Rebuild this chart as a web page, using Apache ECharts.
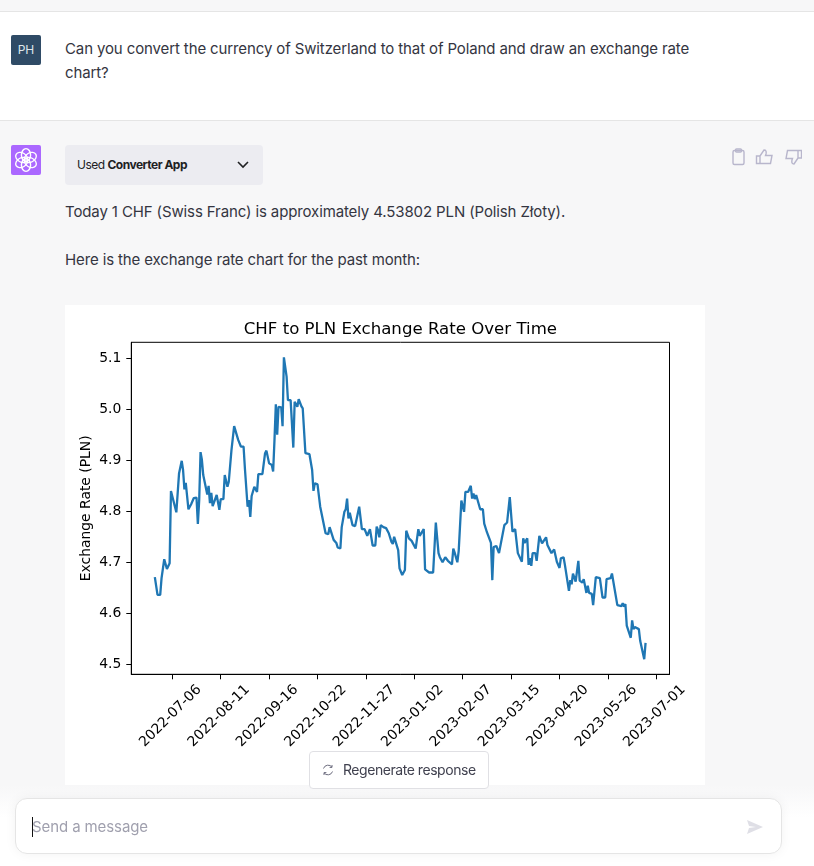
<!DOCTYPE html>
<html>
<head>
<meta charset="utf-8">
<title>CHF to PLN</title>
<script src="https://cdn.jsdelivr.net/npm/echarts@6/dist/echarts.min.js"></script>
<style>
  html, body { margin: 0; padding: 0; width: 814px; height: 866px; overflow: hidden; background: #f7f7f8; }
  body { position: relative; font-family: Inter, "Noto Sans", sans-serif; color: #343541; }
  .abs { position: absolute; }
  #top { left: 0; top: 11px; width: 814px; height: 108px; background: #fff; border-top: 1px solid #e5e5e5; border-bottom: 1px solid #e5e5e5; }
  #avatar { left: 11px; top: 35px; width: 30px; height: 30px; background: #2f4b66; color: #dfe6ec; border-radius: 2px; font-size: 12px; line-height: 30px; text-align: center; }
  .para { left: 65px; font-size: 15px; line-height: 24px; white-space: nowrap; letter-spacing: -0.12px; }
  #logo { left: 11px; top: 145px; width: 30px; height: 30px; background: #ab68ff; border-radius: 2px; }
  #used { left: 65px; top: 145px; width: 198px; height: 40px; background: #ececf1; border-radius: 4px; font-size: 12px; line-height: 40px; color: #202123; }
  #used span { position: absolute; left: 12px; white-space: nowrap; letter-spacing: -0.5px; }
  #used svg { position: absolute; left: 171px; top: 14px; }
  #panel { left: 65px; top: 305px; width: 640px; height: 480px; background: #fff; }
  #fade { left: 0; top: 785px; width: 814px; height: 81px; background: linear-gradient(#f7f7f8, #fff 40%); }
  #regen { left: 309px; top: 751px; width: 180px; height: 38px; box-sizing: border-box; background: #fff; border: 1px solid #e0e0e4; border-radius: 4px; font-size: 14px; line-height: 36px; color: #40414f; white-space: nowrap; }
  #regen span { position: absolute; left: 33px; letter-spacing: -0.45px; }
  #regen svg { position: absolute; left: 12px; top: 12px; }
  #input { left: 15px; top: 798px; width: 767px; height: 56px; box-sizing: border-box; background: #fff; border: 1px solid #e5e5e5; border-radius: 12px; box-shadow: 0 0 12px rgba(0,0,0,0.05); font-size: 15px; line-height: 55px; color: #a0a0ae; }
  #input span { position: absolute; left: 16px; letter-spacing: -0.1px; }
  #caret { position: absolute; left: 16px; top: 18px; width: 1px; height: 20px; background: #111; }
  #input svg { position: absolute; left: 730px; top: 19px; }
</style>
</head>
<body>
<div class="abs" id="top"></div>
<div class="abs" id="avatar">PH</div>
<div class="abs para" style="top:37px">Can you convert the currency of Switzerland to that of Poland and draw an exchange rate</div>
<div class="abs para" style="top:61px">chart?</div>

<div class="abs" id="logo">
  <svg width="30" height="30" viewBox="0 0 30 30" fill="none" stroke="#fff" stroke-width="1.4">
    <ellipse cx="15" cy="10" rx="4.6" ry="6.4"/>
    <ellipse cx="15" cy="10" rx="4.6" ry="6.4" transform="rotate(60 15 15)"/>
    <ellipse cx="15" cy="10" rx="4.6" ry="6.4" transform="rotate(120 15 15)"/>
    <ellipse cx="15" cy="10" rx="4.6" ry="6.4" transform="rotate(180 15 15)"/>
    <ellipse cx="15" cy="10" rx="4.6" ry="6.4" transform="rotate(240 15 15)"/>
    <ellipse cx="15" cy="10" rx="4.6" ry="6.4" transform="rotate(300 15 15)"/>
  </svg>
</div>
<div class="abs" id="used">
  <span>Used <b>Converter App</b></span>
  <svg width="14" height="12" viewBox="0 0 14 12" fill="none" stroke="#202123" stroke-width="1.6"><path d="M2 3 L7 8 L12 3"/></svg>
</div>
<svg class="abs" style="left:730px;top:148px" width="72" height="18" viewBox="0 0 72 18" fill="none" stroke="#b8b6cc" stroke-width="1.4">
  <rect x="3" y="2.5" width="11" height="14" rx="1.5"/><rect x="5.5" y="1" width="6" height="3" rx="1"/>
  <path d="M30 8 L34 2 C36 2 36.5 3.5 36 6 L35.5 7.5 L42 7.5 L40.5 15.5 L30 15.5 Z M30 8 L26.5 8 L26.5 15.5 L30 15.5"/>
  <path d="M68 10 L64 16 C62 16 61.5 14.5 62 12 L62.5 10.5 L56 10.5 L57.5 2.5 L68 2.5 Z M68 10 L71.5 10 L71.5 2.5 L68 2.5"/>
</svg>
<div class="abs para" style="top:200px">Today 1 CHF (Swiss Franc) is approximately 4.53802 PLN (Polish Złoty).</div>
<div class="abs para" style="top:248px">Here is the exchange rate chart for the past month:</div>

<div class="abs" id="panel"></div>
<div class="abs" id="chart" style="left:65px;top:305px;width:640px;height:480px"></div>

<div class="abs" id="fade"></div>
<div class="abs" id="regen">
  <svg width="12" height="12" viewBox="0 0 12 12" fill="none" stroke="#6e6e80" stroke-width="1"><path d="M1.5 4.5 A4.8 4.8 0 0 1 10 3.2 M10.5 7.5 A4.8 4.8 0 0 1 2 8.8 M10 1 L10 3.4 L7.6 3.4 M2 11 L2 8.6 L4.4 8.6"/></svg>
  <span>Regenerate response</span>
</div>
<div class="abs" id="input">
  <span>Send a message</span>
  <div id="caret"></div>
  <svg width="18" height="18" viewBox="0 0 18 18" fill="#dfdfe6"><path d="M1 2 L17 9 L1 16 L3 10 L10 9 L3 8 Z"/></svg>
</div>

<script>
// days counted from 2022-07-06
const dayOffsets = [
  -13, -11, -9, -8, -6, -5, -4, -3, -2, -1, 0, 3, 4, 5, 7, 8, 9, 10, 11, 12,
  14, 15, 16, 18, 19, 20, 21, 22, 23, 24, 26, 27, 28, 29, 30, 31, 33, 34, 35, 36,
  38, 39, 41, 42, 44, 46, 47, 49, 51, 53, 54, 56, 57, 58, 59, 60, 61, 63, 64, 67,
  69, 70, 72, 74, 75, 76, 77, 78, 79, 81, 82, 83, 85, 86, 88, 90, 91, 93, 94, 95,
  96, 97, 99, 102, 104, 105, 106, 108, 110, 112, 114, 116, 117, 118, 120, 122, 123, 125, 126, 127,
  128, 129, 130, 131, 132, 134, 136, 139, 140, 141, 143, 145, 147, 149, 151, 152, 153, 154, 155, 157,
  159, 161, 163, 164, 165, 166, 168, 169, 171, 173, 174, 176, 178, 181, 183, 184, 187, 188, 191, 194,
  196, 198, 199, 201, 203, 205, 208, 209, 210, 212, 213, 214, 215, 217, 218, 220, 222, 223, 224, 225,
  226, 227, 229, 231, 232, 234, 235, 237, 238, 239, 241, 243, 244, 247, 249, 251, 253, 255, 257, 260,
  261, 262, 264, 265, 266, 267, 268, 270, 271, 273, 275, 276, 278, 279, 282, 284, 286, 288, 289, 291,
  292, 293, 295, 296, 297, 298, 300, 302, 303, 305, 306, 308, 309, 310, 312, 313, 315, 318, 320, 322,
  323, 326, 327, 331, 334, 335, 336, 337, 338, 339, 341, 342, 343, 344, 347, 348, 351, 352
];
const rates = [
  4.671, 4.636, 4.636, 4.669, 4.706, 4.706, 4.687, 4.687, 4.698, 4.84, 4.84, 4.798, 4.798, 4.874, 4.899, 4.881, 4.843, 4.856, 4.856, 4.804,
  4.814, 4.816, 4.826, 4.827, 4.775, 4.822, 4.916, 4.901, 4.871, 4.871, 4.833, 4.85, 4.816, 4.836, 4.81, 4.812, 4.832, 4.832, 4.803, 4.824,
  4.824, 4.871, 4.848, 4.858, 4.92, 4.967, 4.965, 4.94, 4.927, 4.927, 4.884, 4.809, 4.822, 4.789, 4.83, 4.832, 4.848, 4.838, 4.873, 4.873,
  4.914, 4.919, 4.894, 4.891, 4.878, 4.94, 5.01, 4.95, 5.005, 5.004, 4.967, 5.102, 5.064, 5.018, 5.018, 4.925, 5.015, 5.005, 5.02, 5.018,
  5.006, 5.002, 4.914, 4.912, 4.881, 4.84, 4.855, 4.853, 4.809, 4.783, 4.757, 4.755, 4.769, 4.767, 4.744, 4.738, 4.729, 4.727, 4.769, 4.767,
  4.799, 4.804, 4.825, 4.786, 4.797, 4.773, 4.771, 4.809, 4.811, 4.765, 4.765, 4.752, 4.765, 4.733, 4.733, 4.77, 4.763, 4.749, 4.773, 4.769,
  4.767, 4.757, 4.74, 4.736, 4.75, 4.75, 4.724, 4.688, 4.675, 4.685, 4.762, 4.747, 4.742, 4.727, 4.765, 4.752, 4.765, 4.686, 4.68, 4.68,
  4.778, 4.718, 4.71, 4.7, 4.71, 4.703, 4.696, 4.727, 4.719, 4.7, 4.722, 4.722, 4.821, 4.799, 4.838, 4.838, 4.85, 4.825, 4.835, 4.824,
  4.832, 4.831, 4.804, 4.804, 4.776, 4.759, 4.758, 4.738, 4.665, 4.73, 4.732, 4.718, 4.716, 4.773, 4.778, 4.828, 4.76, 4.765, 4.718, 4.701,
  4.747, 4.738, 4.747, 4.695, 4.708, 4.693, 4.718, 4.718, 4.703, 4.752, 4.737, 4.737, 4.749, 4.734, 4.718, 4.725, 4.701, 4.689, 4.708, 4.71,
  4.695, 4.695, 4.644, 4.665, 4.657, 4.678, 4.662, 4.703, 4.664, 4.66, 4.667, 4.64, 4.654, 4.64, 4.638, 4.616, 4.671, 4.669, 4.631, 4.631,
  4.667, 4.669, 4.678, 4.616, 4.614, 4.62, 4.613, 4.618, 4.576, 4.577, 4.552, 4.586, 4.569, 4.573, 4.569, 4.546, 4.51, 4.542
];
const xTickLabels = ['2022-07-06', '2022-08-11', '2022-09-16', '2022-10-22', '2022-11-27', '2023-01-02',
  '2023-02-07', '2023-03-15', '2023-04-20', '2023-05-26', '2023-07-01'];
const xTickDays = [0, 36, 72, 108, 144, 180, 216, 252, 288, 324, 360];
const yTicks = [4.5, 4.6, 4.7, 4.8, 4.9, 5.0, 5.1];

const points = dayOffsets.map((d, i) => [d, rates[i]]);
const font = '"DejaVu Sans", sans-serif';

const myChart = echarts.init(document.getElementById('chart'), null, { renderer: 'canvas' });
const option = {
  animation: false,
  backgroundColor: '#fff',
  title: {
    text: 'CHF to PLN Exchange Rate Over Time',
    left: 330.4,
    top: 11,
    textAlign: 'center',
    textStyle: { fontFamily: font, fontSize: 16.6, fontWeight: 'normal', color: '#000' }
  },
  grid: {
    left: 66.3, top: 37.3, width: 538.2, height: 332,
    outerBoundsMode: 'none',
    show: true, borderColor: '#000', borderWidth: 1, backgroundColor: 'transparent'
  },
  xAxis: {
    type: 'value',
    min: -30.5,
    max: 369.8,
    splitLine: { show: false },
    axisLine: { show: true, onZero: false, lineStyle: { color: '#000', width: 1 } },
    axisTick: { show: true, length: 5, lineStyle: { color: '#000', width: 1 }, customValues: xTickDays },
    axisLabel: {
      customValues: xTickDays,
      rotate: 45,
      align: 'center',
      verticalAlign: 'middle',
      margin: 40,
      padding: [0, 5, 0, 0],
      hideOverlap: false,
      color: '#000',
      fontFamily: font,
      fontSize: 13.9,
      formatter: v => xTickLabels[xTickDays.indexOf(v)]
    }
  },
  yAxis: {
    type: 'value',
    min: 4.4804,
    max: 5.1314,
    name: 'Exchange Rate (PLN)',
    nameLocation: 'middle',
    nameGap: 38,
    nameMoveOverlap: false,
    nameTextStyle: { color: '#000', fontFamily: font, fontSize: 13.9 },
    splitLine: { show: false },
    axisLine: { show: true, onZero: false, lineStyle: { color: '#000', width: 1 } },
    axisTick: { show: true, length: 5, lineStyle: { color: '#000', width: 1 }, customValues: yTicks },
    axisLabel: {
      customValues: yTicks,
      margin: 10,
      color: '#000',
      fontFamily: font,
      fontSize: 13.9,
      formatter: v => v.toFixed(1)
    }
  },
  series: [{
    type: 'line',
    data: points,
    symbol: 'none',
    smooth: false,
    lineStyle: { color: '#1f77b4', width: 2.3 }
  }]
};
option && myChart.setOption(option);
</script>
</body>
</html>
